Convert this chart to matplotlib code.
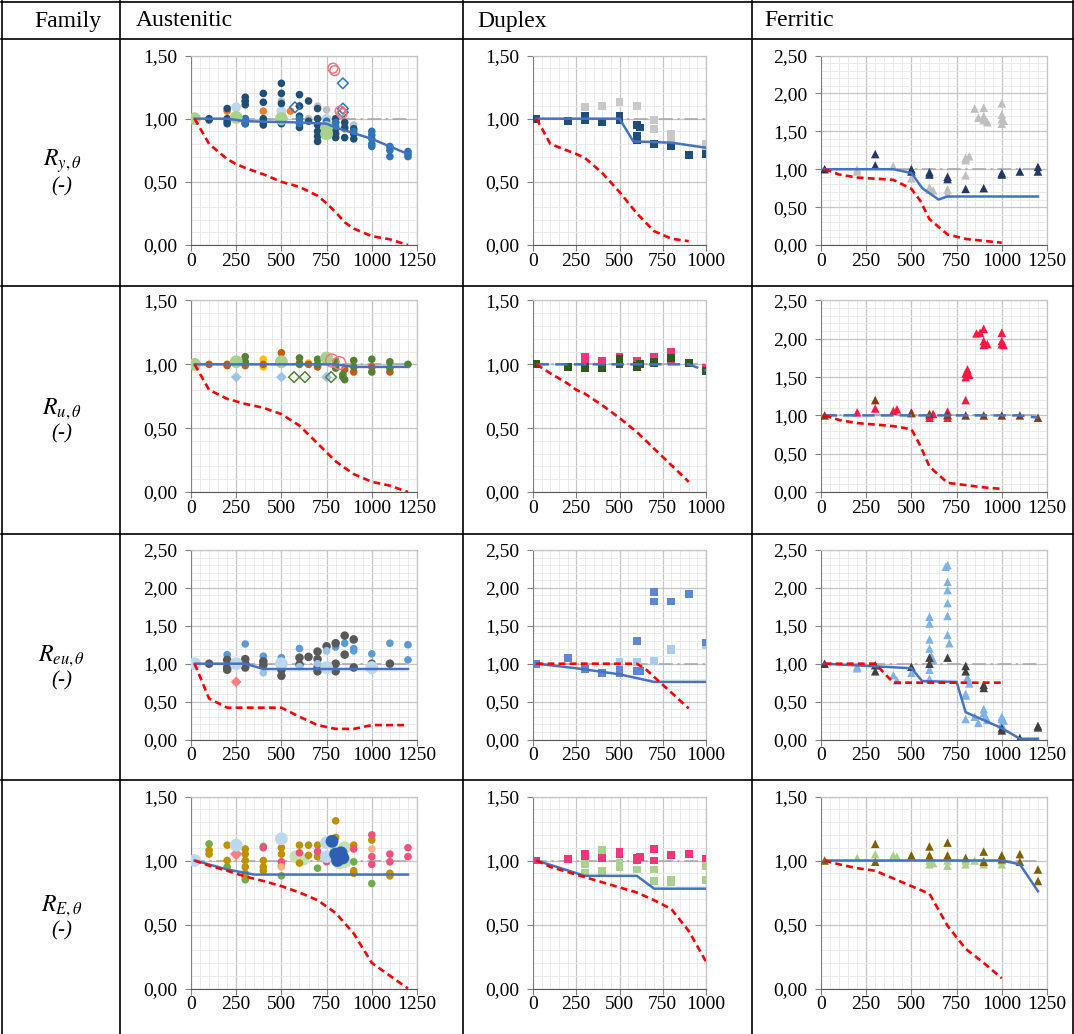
import matplotlib
matplotlib.use("Agg")
import matplotlib.pyplot as plt
from matplotlib.ticker import MultipleLocator, FuncFormatter
from matplotlib.lines import Line2D

W, H = 1074, 1034
plt.rcParams['font.family'] = ['Liberation Serif', 'DejaVu Serif']
plt.rcParams['mathtext.fontset'] = 'stix'

# ---------------- table texts and ticks ----------------
FAMILIES = ["Austenitic", "Duplex", "Ferritic"]
ROW_LABELS = [r"$R_{y,\theta}$", r"$R_{u,\theta}$", r"$R_{eu,\theta}$", r"$R_{E,\theta}$"]
UNIT_LABEL = "(-)"
X_TICKS_1250 = [0, 250, 500, 750, 1000, 1250]
X_TICKS_1000 = [0, 250, 500, 750, 1000]
Y_TICKS_150 = [0.0, 0.5, 1.0, 1.5]
Y_TICKS_250 = [0.0, 0.5, 1.0, 1.5, 2.0, 2.5]

# ---------------- R_y : Austenitic ----------------
AUS_RY_GREEN_X = [20, 250, 500, 750, 750]
AUS_RY_GREEN_Y = [1.00, 1.01, 1.00, 0.93, 0.88]
AUS_RY_NAVY_X = [100, 100, 200, 200, 200, 200, 300, 300, 300, 300, 300, 300,
                 400, 400, 400, 400, 400, 500, 500, 500, 500, 500,
                 600, 600, 600, 600, 600, 650, 650, 700, 700, 700, 700, 700, 700,
                 800, 800, 800, 800, 800, 850, 850, 850, 900, 900, 900]
AUS_RY_NAVY_Y = [1.00, 0.99, 1.08, 1.00, 0.98, 0.96, 1.17, 1.14, 1.11, 1.00, 0.98, 0.96,
                 1.20, 1.13, 1.00, 0.97, 0.95, 1.28, 1.20, 1.12, 1.00, 0.96,
                 1.19, 1.10, 1.02, 0.97, 0.93, 1.14, 0.98, 1.08, 1.00, 0.95, 0.90, 0.86, 0.82,
                 1.00, 0.97, 0.92, 0.88, 0.85, 0.97, 0.93, 0.85, 0.92, 0.88, 0.84]
AUS_RY_BLUE_X = [300, 300, 300, 500, 600, 600, 750, 800, 800, 900,
                 1000, 1000, 1000, 1000, 1000, 1100, 1100, 1100, 1200, 1200, 1200]
AUS_RY_BLUE_Y = [1.00, 0.98, 0.96, 0.97, 1.00, 0.96, 0.98, 0.97, 0.94, 0.90,
                 0.90, 0.87, 0.84, 0.80, 0.78, 0.78, 0.75, 0.70, 0.74, 0.72, 0.70]
AUS_RY_GRAY_X = [300, 500, 600, 650, 700, 750, 800, 900]
AUS_RY_GRAY_Y = [1.13, 1.14, 1.10, 1.00, 1.10, 1.07, 0.90, 0.95]
AUS_RY_ORANGE_X = [200, 400, 550, 850]
AUS_RY_ORANGE_Y = [1.06, 1.06, 1.06, 0.92]
AUS_RY_LBLUE_X = [250, 500, 750]
AUS_RY_LBLUE_Y = [1.09, 1.06, 1.00]
AUS_RY_ODIAM_X = [575, 840, 840, 840]
AUS_RY_ODIAM_Y = [1.09, 1.28, 1.08, 1.05]
AUS_RY_OCIRC_X = [785, 795, 825, 835]
AUS_RY_OCIRC_Y = [1.40, 1.38, 1.06, 1.04]
AUS_RY_MODEL_X = [20, 200, 300, 600, 750, 800, 1000, 1200]
AUS_RY_MODEL_Y = [1.00, 1.00, 0.98, 0.97, 0.96, 0.93, 0.84, 0.72]
AUS_RY_EC3_X = [20, 100, 200, 250, 300, 400, 500, 600, 700, 750, 800, 850, 900, 1000, 1100, 1200]
AUS_RY_EC3_Y = [1.00, 0.80, 0.68, 0.64, 0.61, 0.56, 0.50, 0.46, 0.39, 0.33, 0.26, 0.18, 0.13, 0.07, 0.045, 0.0]

# ---------------- R_y : Duplex ----------------
DUP_RY_NAVY_X = [20, 200, 300, 300, 400, 500, 500, 600, 600, 600, 620, 700, 800, 900, 1000]
DUP_RY_NAVY_Y = [1.00, 0.98, 1.02, 0.99, 0.97, 1.02, 0.99, 0.95, 0.86, 0.83, 0.93, 0.80, 0.78, 0.71, 0.72]
DUP_RY_GRAY_X = [300, 400, 500, 600, 700, 700, 800, 800, 1000, 1000]
DUP_RY_GRAY_Y = [1.09, 1.10, 1.13, 1.10, 0.99, 0.92, 0.88, 0.84, 0.80, 0.78]
DUP_RY_MODEL_X = [20, 500, 580, 800, 1000]
DUP_RY_MODEL_Y = [1.00, 1.00, 0.82, 0.81, 0.77]
DUP_RY_EC3_X = [20, 100, 250, 300, 400, 500, 600, 700, 800, 900]
DUP_RY_EC3_Y = [1.00, 0.80, 0.72, 0.69, 0.57, 0.42, 0.25, 0.11, 0.05, 0.03]

# ---------------- R_y : Ferritic ----------------
FER_RY_NAVY_X = [20, 300, 300, 500, 500, 600, 600, 700, 700, 800, 900, 1000, 1000, 1100, 1200, 1200]
FER_RY_NAVY_Y = [1.00, 1.20, 1.05, 1.00, 0.97, 0.96, 0.93, 0.90, 0.87, 0.74, 0.75, 0.95, 0.93, 0.97, 1.03, 0.97]
FER_RY_GRAY_X = [200, 200, 400, 500, 600, 600, 620, 700, 700, 800, 800, 820, 800,
                 850, 870, 900, 900, 900, 920, 1000, 1000, 1000, 1000, 1010]
FER_RY_GRAY_Y = [1.00, 0.97, 1.04, 0.88, 0.76, 0.73, 0.72, 0.73, 0.68, 1.12, 1.15, 1.17, 0.92,
                 1.80, 1.68, 1.81, 1.70, 1.65, 1.62, 1.87, 1.72, 1.66, 1.60, 1.64]
FER_RY_MODEL_X = [20, 400, 500, 560, 650, 700, 1200]
FER_RY_MODEL_Y = [1.00, 1.00, 0.95, 0.75, 0.60, 0.64, 0.64]
FER_RY_EC3_X = [20, 100, 200, 400, 500, 550, 600, 700, 800, 1000]
FER_RY_EC3_Y = [1.00, 0.93, 0.89, 0.86, 0.74, 0.58, 0.34, 0.14, 0.08, 0.03]

# ---------------- R_u : Austenitic ----------------
AUS_RU_GREEN_X = [20, 250, 500, 750]
AUS_RU_GREEN_Y = [1.00, 1.02, 1.02, 1.05]
AUS_RU_DKGREEN_X = [300, 300, 600, 600, 700, 700, 800, 800, 840, 840, 850, 900, 900, 1000, 1000, 1100, 1100, 1200]
AUS_RU_DKGREEN_Y = [1.06, 1.02, 1.05, 1.00, 1.04, 1.00, 1.02, 0.97, 0.92, 0.90, 0.88, 1.03, 0.98, 1.04, 0.94, 1.02, 0.97, 1.00]
AUS_RU_RUST_X = [100, 200, 200, 300, 300, 400, 500, 500, 600, 650, 700, 800, 850, 900, 1000, 1100]
AUS_RU_RUST_Y = [1.00, 1.00, 0.99, 1.00, 0.99, 1.00, 1.09, 1.02, 1.01, 1.00, 0.98, 0.99, 0.96, 0.94, 0.98, 0.94]
AUS_RU_GOLD_X = [400, 400, 500, 650, 800]
AUS_RU_GOLD_Y = [1.04, 0.98, 1.00, 1.01, 1.02]
AUS_RU_LBLUE_X = [250, 500, 750]
AUS_RU_LBLUE_Y = [0.90, 0.90, 0.90]
AUS_RU_ODIAM_X = [570, 630, 775]
AUS_RU_ODIAM_Y = [0.90, 0.90, 0.90]
AUS_RU_OCIRC_X = [780, 820]
AUS_RU_OCIRC_Y = [1.03, 1.01]
AUS_RU_MODEL_X = [20, 800, 900, 1200]
AUS_RU_MODEL_Y = [1.00, 1.00, 0.98, 0.98]
AUS_RU_EC3_X = [20, 100, 200, 250, 300, 400, 500, 600, 700, 750, 800, 900, 1000, 1100, 1200]
AUS_RU_EC3_Y = [1.00, 0.80, 0.73, 0.71, 0.69, 0.66, 0.61, 0.52, 0.38, 0.31, 0.24, 0.14, 0.08, 0.05, 0.0]

# ---------------- R_u : Duplex ----------------
DUP_RU_PINK_X = [300, 300, 400, 500, 600, 700, 800, 800, 1000]
DUP_RU_PINK_Y = [1.06, 1.03, 1.03, 1.06, 1.03, 1.06, 1.10, 1.03, 0.97]
DUP_RU_GREEN_X = [20, 200, 300, 300, 400, 500, 500, 600, 600, 620, 700, 700, 800, 900, 1000]
DUP_RU_GREEN_Y = [1.00, 0.98, 0.98, 0.97, 0.97, 1.04, 1.00, 0.99, 0.98, 1.00, 1.02, 1.01, 1.05, 1.01, 0.95]
DUP_RU_MODEL_X = [20, 900, 1000]
DUP_RU_MODEL_Y = [1.00, 1.00, 0.95]
DUP_RU_EC3_X = [20, 100, 200, 250, 300, 400, 500, 600, 700, 800, 900]
DUP_RU_EC3_Y = [1.00, 0.93, 0.85, 0.80, 0.77, 0.68, 0.58, 0.47, 0.34, 0.21, 0.08]

# ---------------- R_u : Ferritic ----------------
FER_RU_RED_X = [200, 300, 400, 420, 500, 600, 600, 620, 700, 700, 700,
                800, 800, 810, 820, 800, 860, 880, 900, 900, 900, 920, 1000, 1000, 1000, 1010]
FER_RU_RED_Y = [1.04, 1.09, 1.06, 1.08, 1.04, 1.00, 0.97, 1.02, 1.05, 0.97, 1.00,
                1.50, 1.55, 1.60, 1.53, 1.20, 2.07, 2.08, 2.13, 1.97, 1.92, 1.93, 2.08, 1.97, 1.93, 1.92]
FER_RU_BROWN_X = [20, 300, 500, 600, 700, 800, 900, 1000, 1100, 1200]
FER_RU_BROWN_Y = [1.00, 1.20, 1.03, 1.02, 1.01, 1.00, 1.00, 1.00, 1.00, 0.97]
FER_RU_MODEL_X = [20, 1100, 1200]
FER_RU_MODEL_Y = [1.00, 1.00, 0.97]
FER_RU_EC3_X = [20, 100, 200, 300, 400, 500, 550, 600, 700, 800, 900, 1000]
FER_RU_EC3_Y = [1.00, 0.94, 0.90, 0.88, 0.86, 0.82, 0.60, 0.33, 0.12, 0.09, 0.06, 0.04]

# ---------------- R_eu : Austenitic ----------------
AUS_REU_DKGRAY_X = [100, 200, 200, 200, 300, 300, 300, 400, 400, 500, 500, 600, 600, 650,
                    700, 700, 700, 700, 750, 800, 800, 800, 850, 850, 900, 900, 1000, 1100]
AUS_REU_DKGRAY_Y = [1.00, 1.05, 0.95, 0.92, 1.06, 1.00, 0.95, 1.03, 0.98, 0.84, 0.92, 1.08, 0.99, 1.09,
                    1.16, 1.06, 0.95, 0.90, 1.23, 1.27, 1.00, 0.90, 1.37, 1.12, 1.32, 0.95, 1.00, 1.00]
AUS_REU_MBLUE_X = [200, 300, 400, 500, 600, 800, 850, 900, 900, 1000, 1100, 1200, 1200]
AUS_REU_MBLUE_Y = [1.12, 1.26, 1.10, 1.08, 1.20, 1.22, 1.27, 1.20, 1.17, 1.13, 1.27, 1.25, 1.05]
AUS_REU_LBLUE_BIG_X = [20, 250, 500, 750, 1000]
AUS_REU_LBLUE_BIG_Y = [1.00, 1.00, 1.00, 0.95, 0.95]
AUS_REU_LBLUE_X = [400, 600, 700, 750, 1000]
AUS_REU_LBLUE_Y = [0.88, 0.96, 1.00, 1.17, 0.91]
AUS_REU_PINK_X = [250]
AUS_REU_PINK_Y = [0.76]
AUS_REU_MODEL_X = [20, 300, 400, 1200]
AUS_REU_MODEL_Y = [1.00, 1.00, 0.93, 0.93]
AUS_REU_EC3_X = [20, 100, 200, 500, 600, 700, 800, 900, 1000, 1200]
AUS_REU_EC3_Y = [1.00, 0.54, 0.42, 0.42, 0.30, 0.19, 0.14, 0.14, 0.19, 0.19]

# ---------------- R_eu : Duplex ----------------
DUP_REU_MBLUE_X = [20, 200, 300, 400, 500, 500, 600, 600, 620, 700, 700, 800, 900, 1000]
DUP_REU_MBLUE_Y = [1.00, 1.08, 0.93, 0.88, 0.92, 0.88, 1.30, 0.90, 0.90, 1.95, 1.82, 1.82, 1.92, 1.28]
DUP_REU_LBLUE_X = [300, 500, 600, 700, 800, 800, 1000]
DUP_REU_LBLUE_Y = [0.95, 1.02, 1.02, 1.04, 1.20, 1.18, 1.25]
DUP_REU_MODEL_X = [20, 250, 500, 700, 1000]
DUP_REU_MODEL_Y = [1.00, 0.94, 0.86, 0.76, 0.76]
DUP_REU_EC3_X = [20, 600, 650, 900]
DUP_REU_EC3_Y = [1.00, 1.00, 0.93, 0.41]

# ---------------- R_eu : Ferritic ----------------
FER_REU_LBLUE_X = [200, 200, 400, 420, 500, 600, 600, 600, 600, 610, 620, 600, 600,
                   690, 700, 700, 700, 700, 700, 700, 710, 800, 800, 800, 810, 820,
                   850, 870, 900, 900, 910, 920, 1000, 1000, 1000, 1010]
FER_REU_LBLUE_Y = [0.96, 0.94, 0.85, 0.78, 0.88, 1.62, 1.53, 1.32, 1.20, 1.10, 1.05, 0.92, 0.80,
                   2.28, 2.30, 2.08, 1.97, 1.80, 1.63, 1.38, 1.27, 0.60, 0.58, 0.27, 0.82, 0.74,
                   0.30, 0.22, 0.40, 0.35, 0.30, 0.26, 0.30, 0.27, 0.20, 0.25]
FER_REU_DKGRAY_X = [20, 300, 300, 500, 600, 600, 700, 800, 800, 900, 900, 1000, 1000, 1100, 1200, 1200]
FER_REU_DKGRAY_Y = [1.00, 0.98, 0.90, 0.96, 1.08, 1.00, 1.08, 0.97, 0.90, 0.72, 0.68, 0.15, 0.12, 0.02, 0.18, 0.16]
FER_REU_MODEL_X = [20, 500, 560, 750, 800, 1000, 1100, 1200]
FER_REU_MODEL_Y = [1.00, 0.94, 0.77, 0.76, 0.36, 0.15, 0.01, 0.01]
FER_REU_EC3_X = [20, 300, 400, 1000]
FER_REU_EC3_Y = [1.00, 1.00, 0.75, 0.75]

# ---------------- R_E : Austenitic ----------------
AUS_RE_LBLUE_BIG_X = [20, 250, 500, 750, 750]
AUS_RE_LBLUE_BIG_Y = [1.00, 1.12, 1.17, 1.14, 1.03]
AUS_RE_LGREEN_BIG_X = [580, 620, 800, 850, 850, 820]
AUS_RE_LGREEN_BIG_Y = [1.03, 1.01, 1.07, 1.10, 0.99, 0.98]
AUS_RE_GOLD_X = [100, 100, 200, 200, 300, 300, 300, 300, 300, 400, 400, 400, 500, 500, 500,
                 600, 600, 650, 650, 700, 700, 800, 800, 900, 900, 900, 1000, 1100, 1100]
AUS_RE_GOLD_Y = [1.08, 1.05, 1.12, 1.00, 1.09, 1.05, 1.00, 0.95, 0.90, 1.00, 0.95, 0.92, 1.10, 1.05, 0.96,
                 1.12, 0.98, 1.12, 1.04, 1.12, 1.03, 1.31, 1.18, 1.12, 0.92, 0.90, 1.16, 0.90, 0.88]
AUS_RE_GREEN_X = [100, 200, 300, 300, 400, 500, 700, 900, 1000]
AUS_RE_GREEN_Y = [1.13, 0.95, 0.85, 0.87, 1.11, 0.88, 0.94, 0.99, 0.82]
AUS_RE_PINK_X = [400, 500, 600, 700, 750, 900, 1000, 1000, 1000, 1100, 1100, 1200, 1200]
AUS_RE_PINK_Y = [1.10, 0.99, 1.06, 1.07, 0.99, 1.09, 1.20, 1.03, 0.97, 1.05, 0.99, 1.10, 1.03]
AUS_RE_PDIAM_X = [250]
AUS_RE_PDIAM_Y = [1.05]
AUS_RE_ORANGE_X = [500, 1000]
AUS_RE_ORANGE_Y = [0.95, 1.09]
AUS_RE_DBLUE_X = [780, 800, 810, 820, 830, 840]
AUS_RE_DBLUE_Y = [1.15, 1.05, 1.00, 1.03, 1.06, 1.02]
AUS_RE_MODEL_X = [20, 200, 350, 1200]
AUS_RE_MODEL_Y = [1.00, 0.93, 0.89, 0.89]
AUS_RE_EC3_X = [20, 100, 200, 300, 400, 500, 600, 700, 800, 900, 1000, 1100, 1200]
AUS_RE_EC3_Y = [1.00, 0.96, 0.92, 0.875, 0.84, 0.80, 0.75, 0.69, 0.59, 0.43, 0.20, 0.10, 0.0]

# ---------------- R_E : Duplex ----------------
DUP_RE_PINK_X = [20, 200, 300, 300, 400, 500, 500, 600, 620, 600, 700, 700, 800, 900, 1000]
DUP_RE_PINK_Y = [1.00, 1.01, 1.05, 1.03, 1.02, 1.07, 1.05, 1.02, 1.03, 1.00, 1.09, 1.00, 1.04, 1.05, 1.01]
DUP_RE_GREEN_X = [300, 300, 400, 400, 500, 500, 600, 700, 700, 800, 800, 1000, 1000]
DUP_RE_GREEN_Y = [0.97, 0.90, 1.08, 0.92, 0.98, 0.95, 0.93, 0.93, 0.84, 0.85, 0.83, 0.96, 0.85]
DUP_RE_MODEL_X = [20, 300, 600, 700, 1000]
DUP_RE_MODEL_Y = [1.00, 0.88, 0.88, 0.78, 0.78]
DUP_RE_EC3_X = [20, 100, 200, 300, 400, 500, 600, 700, 800, 900, 1000]
DUP_RE_EC3_Y = [1.00, 0.95, 0.91, 0.87, 0.83, 0.79, 0.75, 0.69, 0.62, 0.45, 0.21]

# ---------------- R_E : Ferritic ----------------
FER_RE_BROWN_X = [20, 300, 300, 500, 600, 600, 700, 700, 800, 900, 900, 1000, 1000, 1100, 1100, 1200, 1200]
FER_RE_BROWN_Y = [1.00, 1.13, 0.99, 1.04, 1.11, 1.04, 1.14, 1.04, 1.02, 1.07, 0.99, 1.04, 1.01, 1.05, 0.99, 0.93, 0.84]
FER_RE_GREEN_X = [200, 300, 400, 420, 600, 600, 620, 700, 700, 800, 800, 850, 900, 900, 1000, 1000]
FER_RE_GREEN_Y = [1.02, 1.05, 1.04, 1.03, 1.00, 0.97, 0.98, 1.00, 0.96, 0.97, 1.00, 1.00, 1.00, 0.97, 0.97, 1.00]
FER_RE_MODEL_X = [20, 1000, 1100, 1200]
FER_RE_MODEL_Y = [1.00, 1.00, 0.97, 0.76]
FER_RE_EC3_X = [20, 100, 200, 300, 400, 500, 600, 700, 800, 900, 1000]
FER_RE_EC3_Y = [1.00, 0.97, 0.94, 0.92, 0.86, 0.80, 0.74, 0.49, 0.31, 0.20, 0.08]

# ---------------- styling ----------------
BLUE_LINE = '#4472C4'
RED_LINE = '#FF0000'
REF_GRAY = '#A6A6A6'

SMALL_O, BIG_O, MID_O = 30, 85, 50
SQ, TRI, DIA = 32, 38, 30


def fmt_comma(v, _pos=None):
    return f"{v:.2f}".replace('.', ',')


fig = plt.figure(figsize=(W / 100, H / 100), dpi=100)

# column pixel extents (left, right), x range, ticks, end of reference line
COLS = [(191, 417, 1250, X_TICKS_1250, 1200),
        (533, 706, 1000, X_TICKS_1000, 1000),
        (821, 1047, 1250, X_TICKS_1250, 1200)]
# row pixel extents (top, bottom)
ROWS = [(55.5, 245), (300.5, 492), (550, 739.5), (796.5, 988.5)]


def make_axes(r, c, ymax):
    left, right, xmax, xticks, _ = COLS[c]
    top, bottom = ROWS[r]
    ax = fig.add_axes([left / W, 1 - bottom / H, (right - left) / W, (bottom - top) / H])
    ax.set_xlim(0, xmax)
    ax.set_ylim(0, ymax)
    ax.set_xticks(xticks)
    ax.set_yticks(Y_TICKS_150 if ymax < 2 else Y_TICKS_250)
    ax.yaxis.set_major_formatter(FuncFormatter(fmt_comma))
    ax.xaxis.set_minor_locator(MultipleLocator(50))
    ax.yaxis.set_minor_locator(MultipleLocator(0.1))
    ax.grid(which='major', color='#C4C4C4', lw=0.9, zorder=0)
    ax.grid(which='minor', color='#EAEAEA', lw=0.7, zorder=0)
    ax.set_axisbelow(True)
    ax.tick_params(which='major', length=4, width=0.8, color='#808080',
                   labelsize=14, pad=1.5)
    ax.tick_params(axis='y', pad=6)
    ax.tick_params(which='minor', length=0)
    for s in ('top', 'right'):
        ax.spines[s].set_color('#C4C4C4')
        ax.spines[s].set_linewidth(0.9)
    ax.spines['left'].set_color('#7F7F7F')
    ax.spines['bottom'].set_color('#595959')
    ax.set_facecolor('white')
    return ax


def dots(ax, x, y, marker, s, color, open_=False, z=3):
    if open_:
        ax.scatter(x, y, marker=marker, s=s, facecolors='none', edgecolors=color,
                   linewidths=1.1, zorder=z)
    else:
        ax.scatter(x, y, marker=marker, s=s, color=color, edgecolors='none', zorder=z)


def curves(ax, c, mx, my, ex, ey, model_ls='-'):
    xend = COLS[c][4]
    ax.plot([0, xend], [1, 1], color=REF_GRAY, lw=1.1, ls=(0, (9, 3, 1.5, 3)), zorder=1.5)
    ax.plot(mx, my, color=BLUE_LINE, lw=1.8,
            ls=model_ls if model_ls == '-' else (0, (5, 2.5)), zorder=3.1)
    ax.plot(ex, ey, color=RED_LINE, lw=1.9, ls=(0, (2.6, 1.6)), zorder=3.2)


# ---- row 1 : R_y
ax = make_axes(0, 0, 1.5)
dots(ax, AUS_RY_GRAY_X, AUS_RY_GRAY_Y, 'o', SMALL_O, '#BFBFBF')
dots(ax, AUS_RY_ORANGE_X, AUS_RY_ORANGE_Y, 'o', SMALL_O, '#ED7D31')
dots(ax, AUS_RY_LBLUE_X, AUS_RY_LBLUE_Y, 'o', MID_O, '#BDD7EE')
dots(ax, AUS_RY_NAVY_X, AUS_RY_NAVY_Y, 'o', SMALL_O, '#1F4E79')
dots(ax, AUS_RY_BLUE_X, AUS_RY_BLUE_Y, 'o', SMALL_O, '#2E75B6')
dots(ax, AUS_RY_GREEN_X, AUS_RY_GREEN_Y, 'o', BIG_O, '#A9D18E')
dots(ax, AUS_RY_ODIAM_X, AUS_RY_ODIAM_Y, 'D', DIA, '#2E75B6', open_=True)
dots(ax, AUS_RY_OCIRC_X, AUS_RY_OCIRC_Y, 'o', MID_O, '#F4777F', open_=True)
curves(ax, 0, AUS_RY_MODEL_X, AUS_RY_MODEL_Y, AUS_RY_EC3_X, AUS_RY_EC3_Y)

ax = make_axes(0, 1, 1.5)
dots(ax, DUP_RY_GRAY_X, DUP_RY_GRAY_Y, 's', SQ, '#C8C8C8')
dots(ax, DUP_RY_NAVY_X, DUP_RY_NAVY_Y, 's', SQ, '#1F4E79')
curves(ax, 1, DUP_RY_MODEL_X, DUP_RY_MODEL_Y, DUP_RY_EC3_X, DUP_RY_EC3_Y)

ax = make_axes(0, 2, 2.5)
dots(ax, FER_RY_GRAY_X, FER_RY_GRAY_Y, '^', TRI, '#BFBFBF')
dots(ax, FER_RY_NAVY_X, FER_RY_NAVY_Y, '^', TRI, '#1F3864')
curves(ax, 2, FER_RY_MODEL_X, FER_RY_MODEL_Y, FER_RY_EC3_X, FER_RY_EC3_Y)

# ---- row 2 : R_u
ax = make_axes(1, 0, 1.5)
dots(ax, AUS_RU_GOLD_X, AUS_RU_GOLD_Y, 'o', SMALL_O, '#FFC000')
dots(ax, AUS_RU_RUST_X, AUS_RU_RUST_Y, 'o', SMALL_O, '#C55A11')
dots(ax, AUS_RU_DKGREEN_X, AUS_RU_DKGREEN_Y, 'o', SMALL_O, '#548235')
dots(ax, AUS_RU_GREEN_X, AUS_RU_GREEN_Y, 'o', BIG_O, '#A9D18E')
dots(ax, AUS_RU_LBLUE_X, AUS_RU_LBLUE_Y, 'D', DIA, '#9DC3E6')
dots(ax, AUS_RU_ODIAM_X, AUS_RU_ODIAM_Y, 'D', DIA, '#548235', open_=True)
dots(ax, AUS_RU_OCIRC_X, AUS_RU_OCIRC_Y, 'o', BIG_O, '#F4777F', open_=True)
curves(ax, 0, AUS_RU_MODEL_X, AUS_RU_MODEL_Y, AUS_RU_EC3_X, AUS_RU_EC3_Y)

ax = make_axes(1, 1, 1.5)
dots(ax, DUP_RU_PINK_X, DUP_RU_PINK_Y, 's', SQ, '#F0357A')
dots(ax, DUP_RU_GREEN_X, DUP_RU_GREEN_Y, 's', SQ, '#2E5A1C')
curves(ax, 1, DUP_RU_MODEL_X, DUP_RU_MODEL_Y, DUP_RU_EC3_X, DUP_RU_EC3_Y, model_ls='--')

ax = make_axes(1, 2, 2.5)
dots(ax, FER_RU_RED_X, FER_RU_RED_Y, '^', TRI, '#FF1744')
dots(ax, FER_RU_BROWN_X, FER_RU_BROWN_Y, '^', TRI, '#843C0C')
curves(ax, 2, FER_RU_MODEL_X, FER_RU_MODEL_Y, FER_RU_EC3_X, FER_RU_EC3_Y, model_ls='--')

# ---- row 3 : R_eu
ax = make_axes(2, 0, 2.5)
dots(ax, AUS_REU_MBLUE_X, AUS_REU_MBLUE_Y, 'o', SMALL_O, '#5B9BD5')
dots(ax, AUS_REU_DKGRAY_X, AUS_REU_DKGRAY_Y, 'o', SMALL_O + 8, '#595959')
dots(ax, AUS_REU_LBLUE_X, AUS_REU_LBLUE_Y, 'o', SMALL_O, '#9DC3E6')
dots(ax, AUS_REU_LBLUE_BIG_X, AUS_REU_LBLUE_BIG_Y, 'o', BIG_O, '#BDD7EE')
dots(ax, AUS_REU_PINK_X, AUS_REU_PINK_Y, 'D', DIA, '#FF7C80')
curves(ax, 0, AUS_REU_MODEL_X, AUS_REU_MODEL_Y, AUS_REU_EC3_X, AUS_REU_EC3_Y)

ax = make_axes(2, 1, 2.5)
dots(ax, DUP_REU_LBLUE_X, DUP_REU_LBLUE_Y, 's', SQ, '#A9CCEE')
dots(ax, DUP_REU_MBLUE_X, DUP_REU_MBLUE_Y, 's', SQ, '#5B87D4')
curves(ax, 1, DUP_REU_MODEL_X, DUP_REU_MODEL_Y, DUP_REU_EC3_X, DUP_REU_EC3_Y)

ax = make_axes(2, 2, 2.5)
dots(ax, FER_REU_LBLUE_X, FER_REU_LBLUE_Y, '^', TRI, '#7FB2E5')
dots(ax, FER_REU_DKGRAY_X, FER_REU_DKGRAY_Y, '^', TRI, '#404040')
curves(ax, 2, FER_REU_MODEL_X, FER_REU_MODEL_Y, FER_REU_EC3_X, FER_REU_EC3_Y)

# ---- row 4 : R_E
ax = make_axes(3, 0, 1.5)
dots(ax, AUS_RE_LGREEN_BIG_X, AUS_RE_LGREEN_BIG_Y, 'o', BIG_O, '#C5E0B4')
dots(ax, AUS_RE_GREEN_X, AUS_RE_GREEN_Y, 'o', SMALL_O, '#70AD47')
dots(ax, AUS_RE_GOLD_X, AUS_RE_GOLD_Y, 'o', SMALL_O, '#BF9000')
dots(ax, AUS_RE_PINK_X, AUS_RE_PINK_Y, 'o', SMALL_O, '#F0507A')
dots(ax, AUS_RE_ORANGE_X, AUS_RE_ORANGE_Y, 'o', SMALL_O, '#F4B183')
dots(ax, AUS_RE_PDIAM_X, AUS_RE_PDIAM_Y, 'D', DIA + 10, '#FF7C80')
dots(ax, AUS_RE_LBLUE_BIG_X, AUS_RE_LBLUE_BIG_Y, 'o', BIG_O, '#BDD7EE')
dots(ax, AUS_RE_DBLUE_X, AUS_RE_DBLUE_Y, 'o', BIG_O, '#2F5FB3')
curves(ax, 0, AUS_RE_MODEL_X, AUS_RE_MODEL_Y, AUS_RE_EC3_X, AUS_RE_EC3_Y)

ax = make_axes(3, 1, 1.5)
dots(ax, DUP_RE_PINK_X, DUP_RE_PINK_Y, 's', SQ, '#F0357A')
dots(ax, DUP_RE_GREEN_X, DUP_RE_GREEN_Y, 's', SQ, '#A9D18E')
curves(ax, 1, DUP_RE_MODEL_X, DUP_RE_MODEL_Y, DUP_RE_EC3_X, DUP_RE_EC3_Y)

ax = make_axes(3, 2, 1.5)
dots(ax, FER_RE_GREEN_X, FER_RE_GREEN_Y, '^', TRI, '#A9D18E')
dots(ax, FER_RE_BROWN_X, FER_RE_BROWN_Y, '^', TRI, '#7F6000')
curves(ax, 2, FER_RE_MODEL_X, FER_RE_MODEL_Y, FER_RE_EC3_X, FER_RE_EC3_Y)


# ---------------- table frame ----------------
def hline(y, x0=1, x1=W - 1, lw=1.2):
    fig.add_artist(Line2D([x0 / W, x1 / W], [1 - y / H, 1 - y / H],
                          transform=fig.transFigure, color='black', lw=lw))


def vline(x, y0=1, y1=H, lw=1.2):
    fig.add_artist(Line2D([x / W, x / W], [1 - y0 / H, 1 - y1 / H],
                          transform=fig.transFigure, color='black', lw=lw))


for y in (1.5, 39, 286, 534, 780):
    hline(y)
for x in (1.5, 120, 462.5, 752, W - 1.5):
    vline(x)

# header texts
fig.text(68 / W, 1 - 21 / H, "Family", ha='center', va='center', fontsize=17)
for name, x in zip(FAMILIES, (136, 477, 764)):
    fig.text(x / W, 1 - 21 / H, name, ha='left', va='center', fontsize=17)

# row labels
for (top, bottom), lab in zip([(39, 286), (286, 534), (534, 780), (780, H)], ROW_LABELS):
    yc = (top + bottom) / 2
    fig.text(62 / W, 1 - (yc - 1) / H, lab, ha='center', va='center', fontsize=17)
    fig.text(62 / W, 1 - (yc + 24) / H, UNIT_LABEL, ha='center', va='center',
             fontsize=15, style='italic')

fig.savefig("out.png", dpi=100)
